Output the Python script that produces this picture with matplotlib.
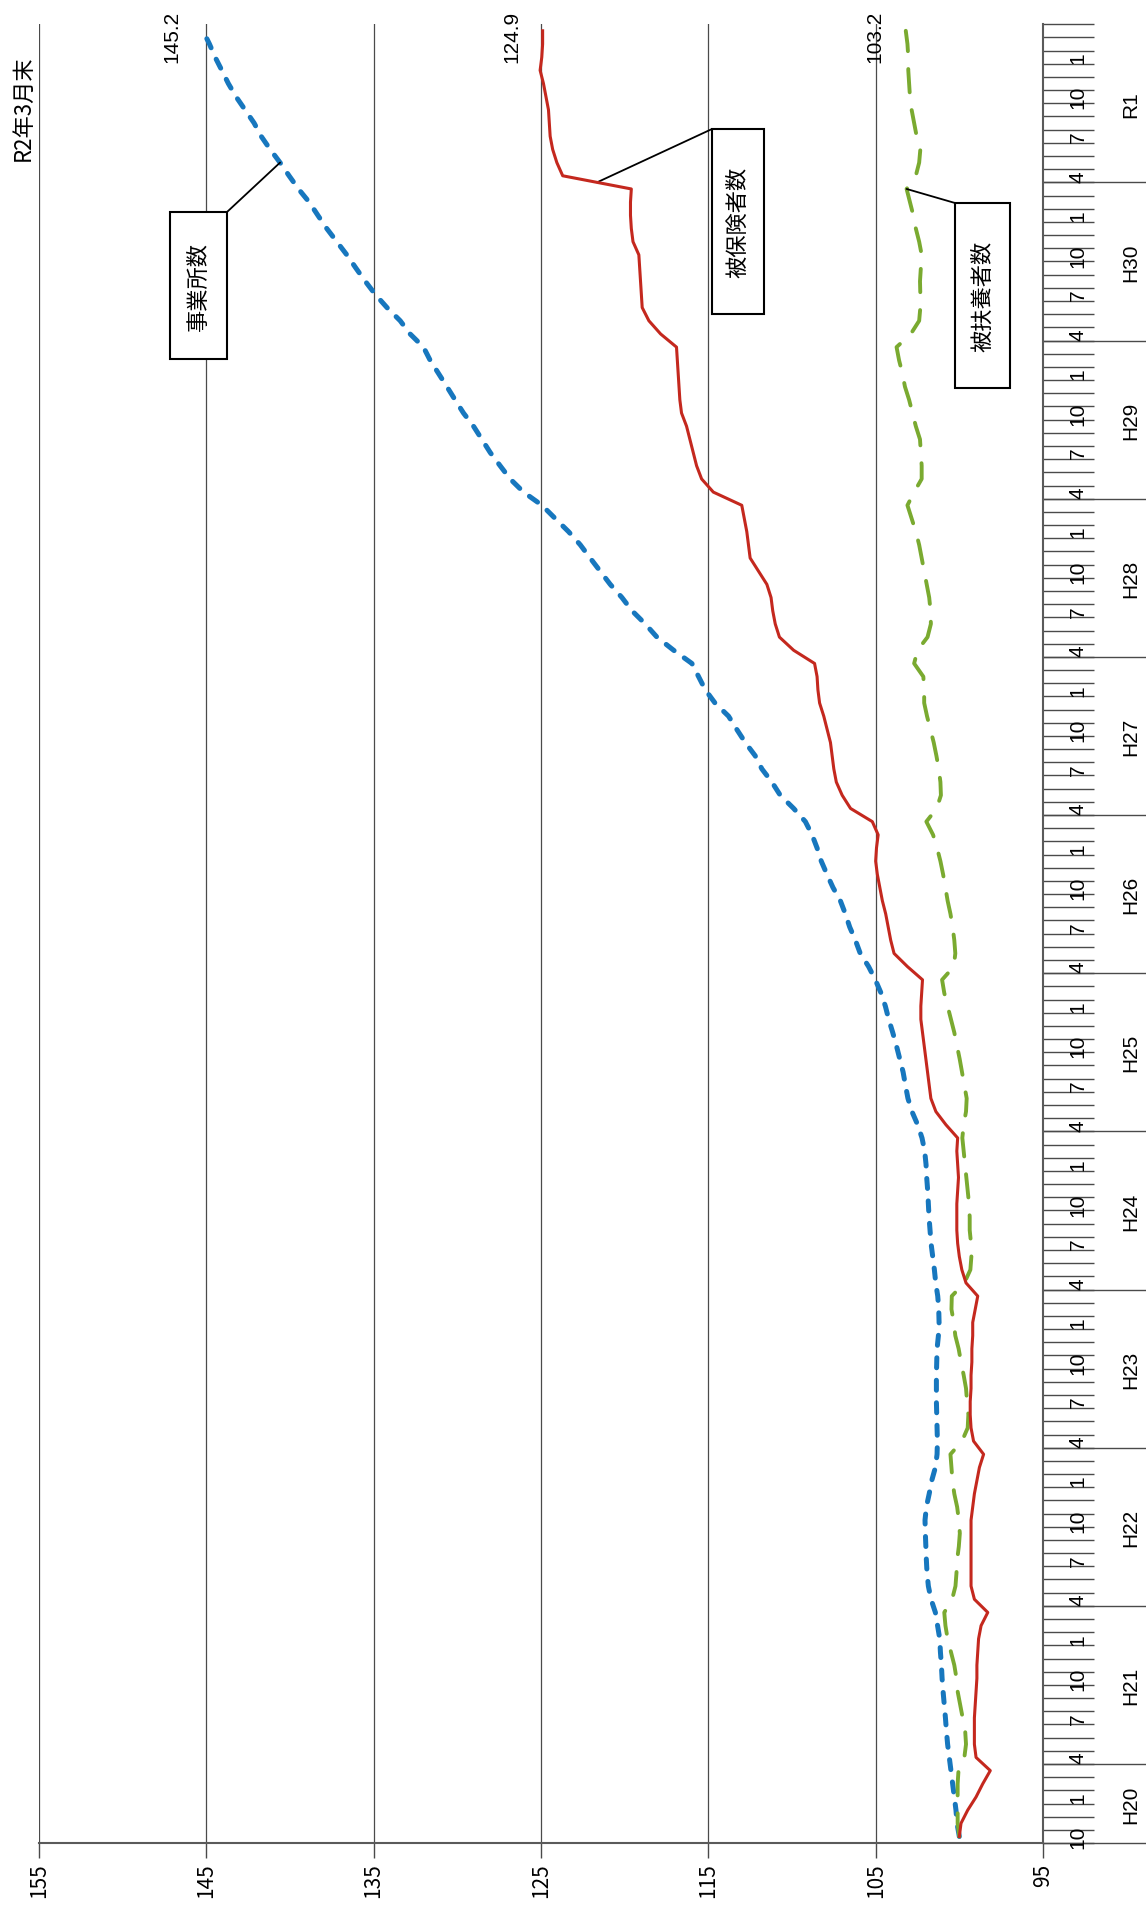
import matplotlib
matplotlib.use('Agg')
import matplotlib.pyplot as plt
import matplotlib.transforms as mtransforms
from matplotlib.patches import Rectangle
import pandas as pd

plt.rcParams['font.family'] = ['Noto Sans CJK JP', 'DejaVu Sans']

# ---------------- data ----------------
months = pd.period_range('2008-10', '2020-03', freq='M')
month_labels = [str(p.month) for p in months]
fiscal_years = ['H20', 'H21', 'H22', 'H23', 'H24', 'H25', 'H26', 'H27', 'H28', 'H29', 'H30', 'R1']
value_ticks = [155, 145, 135, 125, 115, 105, 95]

# 事業所数 (index, H20.10 = 100)
establishments = [
    100.0, 100.14, 100.2, 100.3, 100.4, 100.5,
    100.6, 100.7, 100.77, 100.83, 100.9, 100.97, 101.03, 101.07, 101.13, 101.17, 101.3, 101.43,
    101.69, 101.85, 101.93, 101.97, 102.0, 102.03, 102.05, 101.97, 101.8, 101.65, 101.43, 101.33,
    101.31, 101.33, 101.35, 101.37, 101.37, 101.37, 101.35, 101.33, 101.25, 101.21, 101.23, 101.29,
    101.41, 101.49, 101.59, 101.69, 101.75, 101.81, 101.85, 101.89, 101.95, 101.99, 102.07, 102.23,
    102.49, 102.83, 103.07, 103.22, 103.36, 103.56, 103.76, 103.98, 104.22, 104.42, 104.68, 105.02,
    105.42, 105.92, 106.21, 106.55, 106.81, 107.11, 107.55, 107.91, 108.25, 108.5, 108.8, 109.2,
    109.9, 110.7, 111.2, 111.8, 112.2, 112.79, 113.3, 113.79, 114.6, 115.18, 115.58, 115.98,
    117.07, 118.07, 118.77, 119.56, 120.16, 120.86, 121.46, 122.06, 122.65, 123.35, 124.15, 124.94,
    126.04, 126.84, 127.44, 128.03, 128.53, 129.03, 129.63, 130.13, 130.62, 131.12, 131.62, 132.02,
    132.82, 133.41, 134.2, 134.9, 135.5, 136.06, 136.6, 137.2, 137.8, 138.33, 138.85, 139.49,
    140.05, 140.59, 141.18, 141.72, 142.14, 142.68, 143.22, 143.68, 144.07, 144.47, 144.81, 145.2,
]

# 被保険者数
insured = [
    100.0, 99.9, 99.5, 99.0, 98.6, 98.15,
    99.0, 99.1, 99.1, 99.1, 99.05, 99.0, 98.95, 98.95, 98.9, 98.85, 98.7, 98.3,
    99.1, 99.3, 99.3, 99.3, 99.3, 99.3, 99.3, 99.2, 99.1, 98.95, 98.8, 98.55,
    99.15, 99.3, 99.35, 99.35, 99.3, 99.3, 99.25, 99.25, 99.2, 99.2, 99.05, 98.9,
    99.6, 99.85, 100.0, 100.1, 100.15, 100.15, 100.15, 100.1, 100.05, 100.1, 100.15, 100.1,
    100.8, 101.4, 101.7, 101.8, 101.9, 102.0, 102.1, 102.2, 102.3, 102.3, 102.25, 102.2,
    103.1, 103.9, 104.1, 104.25, 104.4, 104.6, 104.75, 104.9, 105.0, 104.95, 104.85, 105.2,
    106.5, 107.0, 107.35, 107.5, 107.6, 107.7, 107.9, 108.1, 108.35, 108.45, 108.5, 108.65,
    109.9, 110.75, 111.0, 111.15, 111.25, 111.5, 112.0, 112.5, 112.6, 112.7, 112.85, 113.0,
    114.7, 115.4, 115.7, 115.9, 116.1, 116.3, 116.6, 116.7, 116.75, 116.8, 116.85, 116.9,
    117.85, 118.55, 118.95, 119.0, 119.05, 119.1, 119.15, 119.5, 119.6, 119.65, 119.65, 119.6,
    123.7, 124.05, 124.3, 124.45, 124.5, 124.55, 124.7, 124.85, 125.05, 124.95, 124.9, 124.9,
]

# 被扶養者数
dependents = [
    100.0, 100.1, 100.1, 100.1, 100.1, 100.05,
    99.7, 99.6, 99.65, 99.8, 99.95, 100.1, 100.17, 100.3, 100.5, 100.7, 100.83, 100.9,
    100.43, 100.23, 100.17, 100.13, 100.03, 99.97, 100.03, 100.13, 100.3, 100.41, 100.47, 100.53,
    99.84, 99.5, 99.46, 99.54, 99.6, 99.74, 99.9, 100.04, 100.24, 100.33, 100.47, 100.45,
    99.7, 99.34, 99.28, 99.3, 99.38, 99.38, 99.42, 99.5, 99.58, 99.66, 99.74, 99.82,
    99.74, 99.6, 99.56, 99.7, 99.84, 99.98, 100.14, 100.3, 100.5, 100.7, 100.9, 101.03,
    100.33, 100.24, 100.3, 100.4, 100.53, 100.7, 100.83, 100.97, 101.13, 101.33, 101.57, 101.97,
    101.35, 101.1, 101.13, 101.23, 101.37, 101.53, 101.73, 101.93, 102.1, 102.1, 102.15, 102.7,
    102.5, 101.9, 101.7, 101.72, 101.8, 101.95, 102.1, 102.25, 102.4, 102.6, 102.85, 103.1,
    102.7, 102.25, 102.25, 102.3, 102.35, 102.6, 102.8, 103.0, 103.25, 103.4, 103.6, 103.75,
    102.9, 102.4, 102.33, 102.33, 102.35, 102.3, 102.25, 102.4, 102.6, 102.75, 102.95, 103.15,
    102.6, 102.4, 102.33, 102.55, 102.7, 102.85, 102.95, 103.0, 103.05, 103.05, 103.1, 103.2,
]

# ---------------- figure ----------------
W, H = 1146, 1908
fig = plt.figure(figsize=(W / 100, H / 100), dpi=100)
fig.patch.set_facecolor('white')

ax_left, ax_right, ax_top, ax_bottom = 38.9, 1043.0, 25.2, 1844.1
ax = fig.add_axes([ax_left / W, (H - ax_bottom) / H, (ax_right - ax_left) / W, (ax_bottom - ax_top) / H])

n = len(months)
idx = list(range(n))
ax.set_xlim(155, 95)
ax.set_ylim(-0.5, n - 0.5)

grid_col = '#4a4a4a'
ax.set_xticks(value_ticks)
ax.set_xticklabels([str(v) for v in value_ticks], rotation=90, fontsize=15)
ax.xaxis.grid(True, color=grid_col, lw=0.9)
ax.set_axisbelow(True)
ax.tick_params(axis='x', direction='out', length=11, width=1, color=grid_col, pad=3)

for s in ['top', 'left']:
    ax.spines[s].set_visible(False)
for s in ['right', 'bottom']:
    ax.spines[s].set_color('#5a5a5a')
    ax.spines[s].set_linewidth(1.5)

# category axis on the right
boundaries = [i - 0.5 for i in range(n + 1)]
ax.yaxis.tick_right()
ax.set_yticks(boundaries)
ax.set_yticklabels([''] * len(boundaries))
ax.tick_params(axis='y', direction='out', length=37, width=1, color=grid_col)

blend = mtransforms.blended_transform_factory(ax.transAxes, ax.transData)
x_month = (1078 - ax_left) / (ax_right - ax_left)
x_year = (1131 - ax_left) / (ax_right - ax_left)
x_edge = (W - ax_left) / (ax_right - ax_left)

for i, lab in enumerate(month_labels):
    if i % 3 == 0:
        ax.text(x_month, i, lab, transform=blend, rotation=90, ha='center', va='center',
                fontsize=15, family=['Liberation Sans', 'DejaVu Sans'])

# fiscal year groups
fy_of = [(p.year - 1 if p.month < 4 else p.year) for p in months]
groups = {}
for i, f in enumerate(fy_of):
    groups.setdefault(f, []).append(i)
for lab, (f, members) in zip(fiscal_years, sorted(groups.items())):
    centre = sum(members) / len(members)
    ax.text(x_year, centre, lab, transform=blend, rotation=90, ha='center', va='center',
            fontsize=15, family=['Liberation Sans', 'DejaVu Sans'])
    start = members[0] - 0.5
    ax.plot([1.0, x_edge], [start, start], transform=blend, color=grid_col, lw=1, clip_on=False)

# ---------------- series ----------------
ax.plot(establishments, idx, color='#1777BE', lw=3.6, dashes=(2.0, 2.5), dash_capstyle='round', zorder=3)
ax.plot(insured, idx, color='#C4281E', lw=2.2, solid_joinstyle='round', zorder=4)
ax.plot(dependents, idx, color='#7AAA30', lw=2.8, dashes=(6.0, 4.6), dash_capstyle='round', zorder=3)

# end value labels
for series in (establishments, insured, dependents):
    ax.annotate(f'{series[-1]:.1f}', xy=(series[-1], n - 1), xytext=(-31, -5),
                textcoords='offset pixels', rotation=90, ha='center', va='center',
                fontsize=15, family=['Liberation Sans', 'DejaVu Sans'])

fig.text(23 / W, 1 - 108 / H, 'R2年3月末', rotation=90, ha='center', va='center', fontsize=16)


# ---------------- callouts ----------------
def callout(text, x0, x1, y0, y1, corner, target):
    rect = Rectangle((x0 / W, 1 - y1 / H), (x1 - x0) / W, (y1 - y0) / H, transform=fig.transFigure,
                     facecolor='white', edgecolor='black', lw=1.5, zorder=5)
    fig.patches.append(rect)
    fig.text((x0 + x1) / 2 / W, 1 - (y0 + y1) / 2 / H, text, rotation=90, ha='center', va='center',
             fontsize=16, zorder=6)
    ax.annotate('', xy=target, xycoords='data', xytext=(corner[0], H - corner[1]),
                textcoords='figure pixels',
                arrowprops=dict(arrowstyle='-', lw=1.3, color='black', shrinkA=0, shrinkB=0))


callout('事業所数', 170, 227, 213, 360, (227, 213), (establishments[127], 127))
callout('被保険者数', 712, 764, 130, 315, (712, 130), ((insured[125] + insured[126]) / 2, 125.5))
callout('被扶養者数', 955, 1010, 204, 389, (955, 204), (dependents[125], 125))

fig.savefig('out.png', dpi=100, facecolor='white')
